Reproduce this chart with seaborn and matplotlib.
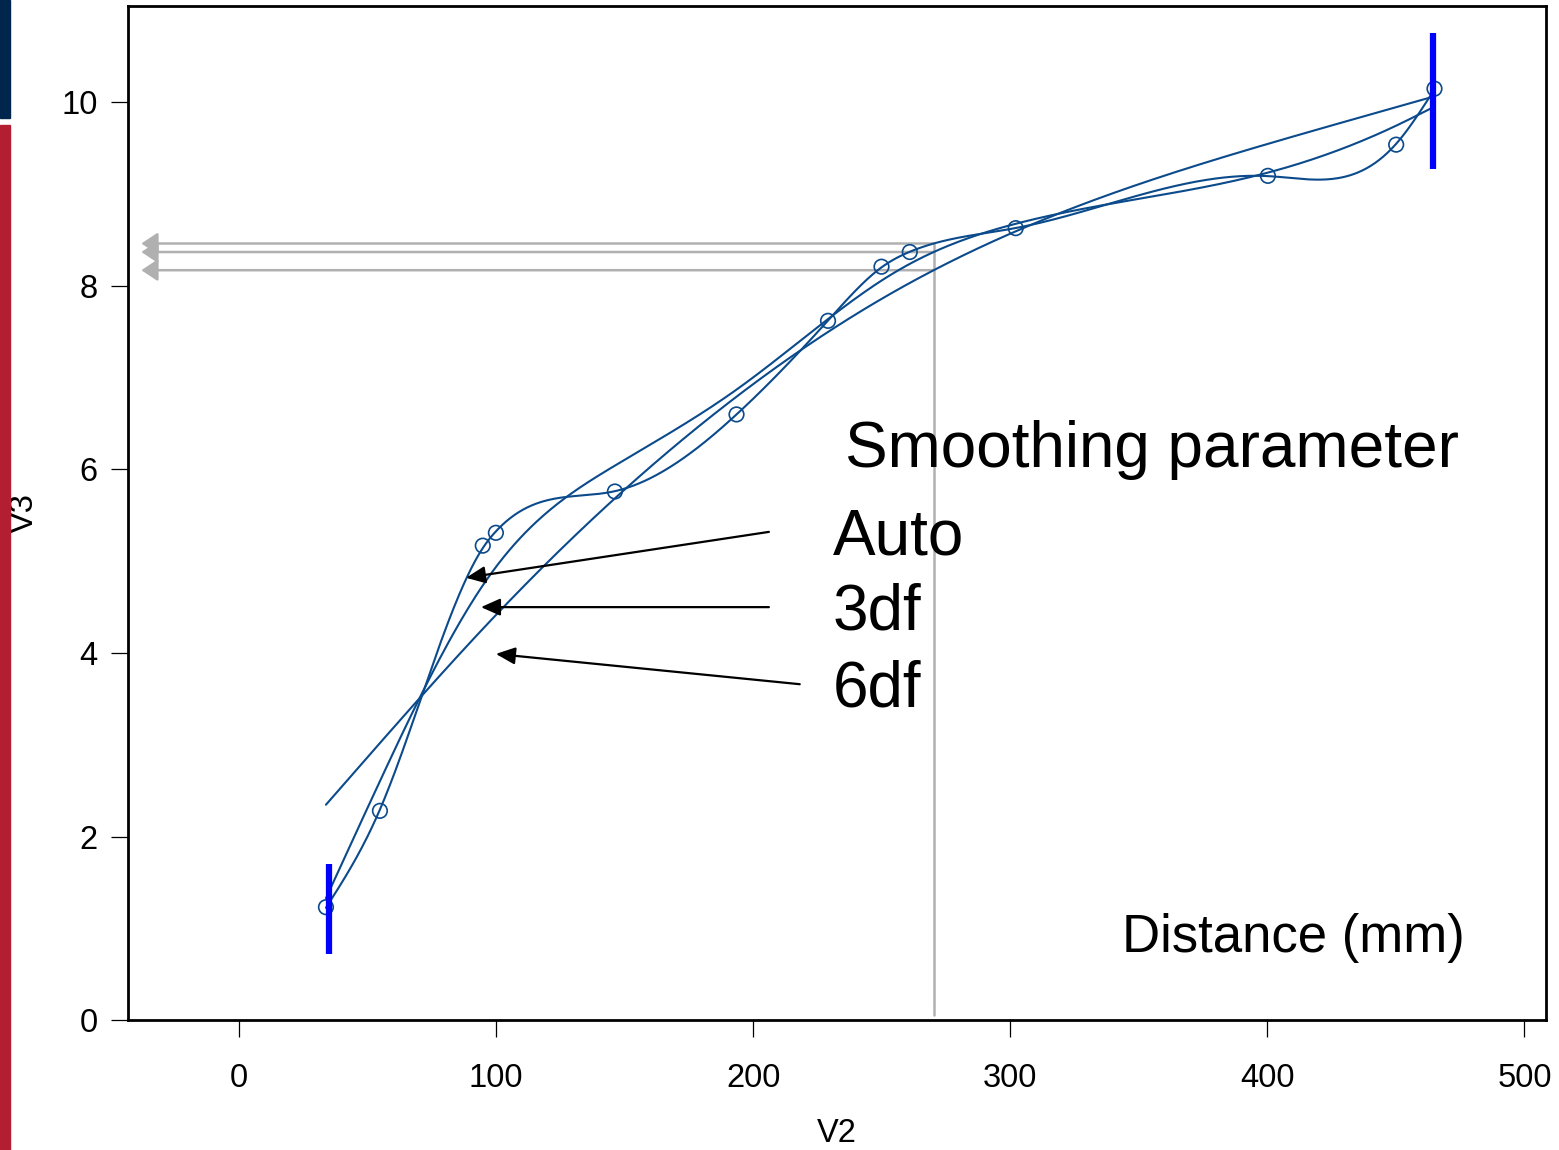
import numpy as np
import pandas as pd
import matplotlib
matplotlib.use('Agg')
import matplotlib.pyplot as plt
import seaborn as sns

v2 = [33.8, 54.8, 94.8, 99.9, 146.2, 193.5, 229.1, 249.9, 260.9, 302.1, 400.2, 450.1, 465.0]
v3 = [1.23, 2.28, 5.17, 5.31, 5.76, 6.60, 7.62, 8.21, 8.37, 8.63, 9.20, 9.54, 10.15]

# smoothing parameters of the three fits (None = chosen by GCV)
fit_names = ['Auto', '3df', '6df']
fit_df = [None, 3, 6]

# thick blue range bars at both ends
bar_x = [35.0, 464.4]
bar_lo = [0.72, 9.28]
bar_hi = [1.70, 10.76]

x_read = 270.2

x_ticks = [0, 100, 200, 300, 400, 500]
y_ticks = [0, 2, 4, 6, 8, 10]

line_col = '#0b4a8b'


def spline_parts(x):
    n = len(x)
    h = np.diff(x)
    Q = np.zeros((n, n - 2))
    R = np.zeros((n - 2, n - 2))
    for j in range(1, n - 1):
        Q[j - 1, j - 1] = 1 / h[j - 1]
        Q[j, j - 1] = -1 / h[j - 1] - 1 / h[j]
        Q[j + 1, j - 1] = 1 / h[j]
        R[j - 1, j - 1] = (h[j - 1] + h[j]) / 3
        if j < n - 2:
            R[j - 1, j] = R[j, j - 1] = h[j] / 6
    K = Q @ np.linalg.solve(R, Q.T)
    return Q, R, K


def smoother(K, lam):
    return np.linalg.inv(np.eye(K.shape[0]) + lam * K)


def smooth_spline(x, y, df=None):
    x = np.asarray(x, float)
    y = np.asarray(y, float)
    n = len(x)
    Q, R, K = spline_parts(x)
    if df is None:
        best = None
        for ll in np.linspace(-4, 12, 801):
            S = smoother(K, 10 ** ll)
            tr = np.trace(S)
            rss = np.sum((y - S @ y) ** 2)
            gcv = (rss / n) / (1 - tr / n) ** 2
            if best is None or gcv < best[0]:
                best = (gcv, ll)
        lam = 10 ** best[1]
    else:
        lo, hi = -6.0, 16.0
        for _ in range(100):
            mid = (lo + hi) / 2
            if np.trace(smoother(K, 10 ** mid)) > df:
                lo = mid
            else:
                hi = mid
        lam = 10 ** ((lo + hi) / 2)
    g = smoother(K, lam) @ y
    gam = np.zeros(n)
    gam[1:-1] = np.linalg.solve(R, Q.T @ g)
    h = np.diff(x)

    def f(t):
        t = np.atleast_1d(np.asarray(t, float))
        i = np.clip(np.searchsorted(x, t, side='right') - 1, 0, n - 2)
        tl, tr, hi_ = x[i], x[i + 1], h[i]
        return (((t - tl) * g[i + 1] + (tr - t) * g[i]) / hi_
                - (t - tl) * (tr - t) / 6 * ((1 + (t - tl) / hi_) * gam[i + 1]
                                              + (1 + (tr - t) / hi_) * gam[i]))
    return f


sns.set_theme(style='white')
plt.rcParams['font.family'] = ['Liberation Sans', 'DejaVu Sans']
plt.rcParams['text.color'] = 'black'
plt.rcParams['axes.labelcolor'] = 'black'

fig = plt.figure(figsize=(15.59, 11.5), dpi=100)
ax = fig.add_axes([0.0821, 0.1130, 0.9096, 0.8817])

# slide decoration strips at the left edge
fig.patches.append(plt.Rectangle((0, 0.897), 0.0064, 0.103, transform=fig.transFigure,
                                 color='#00264d', zorder=0))
fig.patches.append(plt.Rectangle((0, 0), 0.0064, 0.891, transform=fig.transFigure,
                                 color='#b41e32', zorder=0))

grid = np.linspace(v2[0], v2[-1], 800)
fits = {}
for name, d in zip(fit_names, fit_df):
    f = smooth_spline(v2, v3, d)
    fits[name] = f
    curve = pd.DataFrame({'V2': grid, 'V3': f(grid)})
    sns.lineplot(data=curve, x='V2', y='V3', color=line_col, lw=1.5, ax=ax,
                 estimator=None, sort=False)

pts = pd.DataFrame({'V2': v2, 'V3': v3})
sns.scatterplot(data=pts, x='V2', y='V3', ax=ax, s=110, facecolor='none',
                edgecolor=line_col, linewidth=1.2, zorder=5)

ax.vlines(bar_x, bar_lo, bar_hi, color='#0000ff', lw=4.5, zorder=6)

# gray read-off lines at x_read
reads = [float(fits[n](x_read)[0]) for n in fit_names]
ax.plot([x_read, x_read], [0.05, max(reads)], color='#b0b0b0', lw=1.8, zorder=1)
for r in reads:
    ax.annotate('', xy=(-38, r), xytext=(x_read, r),
                arrowprops=dict(arrowstyle='-|>,head_length=0.45,head_width=0.3',
                                color='#b0b0b0', lw=1.8, mutation_scale=22,
                                shrinkA=0, shrinkB=0), zorder=1)

# annotation arrows and labels
ax.text(235.6, 6.21, 'Smoothing parameter', fontsize=46, va='center', ha='left',
        color='black')
labels_y = [5.26, 4.44, 3.60]
tails = [(206.1, 5.32), (206.1, 4.50), (218.1, 3.66)]
tips = [(88.3, 4.82), (94.1, 4.50), (99.9, 3.99)]
for name, ly, tl, tp in zip(fit_names, labels_y, tails, tips):
    ax.text(231.0, ly, name, fontsize=46, va='center', ha='left', color='black')
    ax.annotate('', xy=tp, xytext=tl,
                arrowprops=dict(arrowstyle='-|>,head_length=0.45,head_width=0.2',
                                color='black', lw=1.6, mutation_scale=26,
                                shrinkA=0, shrinkB=0))
ax.text(476.7, 0.89, 'Distance (mm)', fontsize=38, va='center', ha='right',
        color='black')

ax.set_xlim(-43.2, 508.4)
ax.set_ylim(0, 11.05)
ax.set_xticks(x_ticks)
ax.set_yticks(y_ticks)
ax.tick_params(axis='both', direction='out', length=12, width=0.9, color='black',
               labelsize=23.5, labelcolor='black', bottom=True, left=True)
ax.tick_params(axis='x', pad=19)
ax.tick_params(axis='y', pad=10)
for s in ax.spines.values():
    s.set_color('black')
    s.set_linewidth(2)
ax.set_xlabel('V2', fontsize=23.5, color='black')
ax.set_ylabel('V3', fontsize=23.5, color='black')
ax.xaxis.set_label_coords(0.5, -0.0966)
ax.yaxis.set_label_coords(-0.062, 0.5)

fig.savefig('out.png', dpi=100)
